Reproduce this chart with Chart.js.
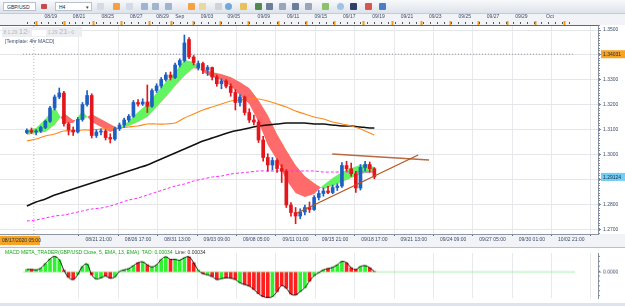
<!DOCTYPE html>
<html><head><meta charset="utf-8">
<script src="https://cdn.jsdelivr.net/npm/chart.js@4.4.1/dist/chart.umd.min.js"></script>
<style>
html,body{margin:0;padding:0;width:625px;height:306px;overflow:hidden;background:#dfe4ec;font-family:"Liberation Sans",Arial,sans-serif;}
#wrap{position:relative;width:625px;height:306px;}
#toolbar{position:absolute;left:0;top:0;width:625px;height:14px;background:linear-gradient(#f8f9fb,#dde3eb);border-bottom:1px solid #c5ccd8;box-sizing:border-box;}
.dd{position:absolute;top:2px;height:9px;background:#fff;border:1px solid #b9c1cd;box-sizing:border-box;font-size:5px;line-height:8px;padding-left:3px;color:#223;}
.arr{position:absolute;right:2px;top:0;font-size:5px;color:#333;}
.ic{position:absolute;top:3px;width:7px;height:7px;border-radius:1px;}
canvas{position:absolute;left:0;display:block;}
#main{top:14px;}
#macd{top:247px;border-top:1px solid #b8c0cc;}
#legend{position:absolute;left:2px;top:27px;width:80px;height:10px;background:#eceef2;color:#b3b8c2;font-size:5px;line-height:10px;white-space:nowrap;}
#legend b{font-size:8px;font-weight:normal;}
#legend i{font-style:normal;display:inline-block;width:14px;height:6px;background:#fff;vertical-align:middle;margin:0 2px;}
#tmpl{position:absolute;left:5px;top:38px;font-size:5px;color:#3d4d6e;white-space:nowrap;}
#macdlbl{position:absolute;left:5px;top:249px;font-size:5px;color:#1aa51a;white-space:nowrap;}
#macdlbl span{color:#333;}
</style></head>
<body><div id="wrap">
<div id="toolbar">
  <div class="dd" style="left:3px;width:33px;">GBP/USD</div>
  <div class="ic" style="left:41px;background:#c84a4a;width:6px;height:5px;top:4px"></div>
  <div class="dd" style="left:55px;width:37px;">H4<span class="arr">▾</span></div>
  <div class="ic" style="left:97px;background:#d5dbe4"></div>
  <div class="ic" style="left:113px;background:#f5a142"></div>
  <div class="ic" style="left:126px;background:#d5dbe4"></div>
  <div class="ic" style="left:141px;background:#9fb4cf"></div>
  <div class="ic" style="left:152px;background:#9fb4cf"></div>
  <div class="ic" style="left:165px;background:#9fb4cf"></div>
  <div class="ic" style="left:188px;background:#f5a142"></div>
  <div class="ic" style="left:199px;background:#e9d9a0"></div>
  <div class="ic" style="left:215px;background:#d0d4da"></div>
  <div class="ic" style="left:225px;background:#6fa8dc;border-radius:4px"></div>
  <div class="ic" style="left:240px;background:#e8c15a"></div>
  <div class="ic" style="left:255px;background:#4f8a4f"></div>
  <div class="ic" style="left:266px;background:#6c7d99"></div>
  <div class="ic" style="left:279px;background:#9aa6b8"></div>
  <div class="ic" style="left:292px;background:#6c7d99"></div>
  <div class="ic" style="left:305px;background:#9aa6b8"></div>
  <div class="ic" style="left:322px;background:#8dc06a"></div>
  <div class="ic" style="left:337px;background:#9fc3e6;border-radius:4px"></div>
  <div class="ic" style="left:350px;background:#2d3f63"></div>
  <div class="ic" style="left:365px;background:#d9534f"></div>
  <div class="ic" style="left:379px;background:#4a7fc1"></div>
</div>
<canvas id="main" width="625" height="233"></canvas>
<canvas id="macd" width="625" height="56"></canvas>
<div id="legend">&nbsp;8 1.29 <b>12</b>⁴<i></i>1.29 <b>21</b>⁵ 0</div>
<div id="tmpl">[Template: 4hr MACD]</div>
<div id="macdlbl">MACD META_TRADER(GBP/USD.Close, 5, EMA, 13, EMA)&nbsp; TAO: 0.00034&nbsp; <span>Line: 0.00034</span></div>
</div>
<script>
// ---- bar positions (H4 bar index, 0 = 08/17/2020 05:00) ----
const candleIdx = [-3,-1,1,3,5,7,9,11,13,15,17,19,21,23,25,27,29,31,33,35,37,39,41,43,45,47,49,51,53,55,57,59,61,63,65,67,69,71,73,75,77,79,81,83,85,87,89,91,93,95,97,99,101,103,105,107,109,111,113,115,117,119,121,123,125,127,129,131,133,135,137,139,141,143,145,147];
const opens  = [1.3090,1.3098,1.3092,1.3096,1.3110,1.3135,1.3188,1.3232,1.3248,1.3125,1.3100,1.3092,1.3142,1.3202,1.3238,1.3078,1.3092,1.3096,1.3070,1.3064,1.3105,1.3120,1.3140,1.3155,1.3210,1.3204,1.3212,1.3195,1.3258,1.3276,1.3302,1.3320,1.3310,1.3360,1.3378,1.3462,1.3392,1.3348,1.3366,1.3340,1.3350,1.3312,1.3285,1.3296,1.3275,1.3250,1.3210,1.3232,1.3170,1.3140,1.3132,1.3060,1.2990,1.2960,1.2978,1.2946,1.2935,1.2800,1.2770,1.2756,1.2772,1.2790,1.2782,1.2830,1.2846,1.2856,1.2850,1.2870,1.2876,1.2958,1.2945,1.2925,1.2868,1.2950,1.2962,1.2945];
const highs  = [1.3105,1.3108,1.3102,1.3115,1.3140,1.3195,1.3240,1.3268,1.3255,1.3130,1.3112,1.3150,1.3210,1.3258,1.3245,1.3100,1.3105,1.3102,1.3085,1.3112,1.3128,1.3148,1.3162,1.3218,1.3222,1.3225,1.3280,1.3265,1.3285,1.3310,1.3330,1.3332,1.3368,1.3385,1.3480,1.3470,1.3398,1.3376,1.3372,1.3358,1.3352,1.3320,1.3305,1.3302,1.3285,1.3262,1.3242,1.3236,1.3185,1.3160,1.3140,1.3075,1.3005,1.2990,1.2985,1.2962,1.2942,1.2810,1.2790,1.2785,1.2800,1.2812,1.2838,1.2858,1.2868,1.2875,1.2880,1.2885,1.2970,1.2975,1.2968,1.2935,1.2962,1.2975,1.2972,1.2950];
const lows   = [1.3085,1.3086,1.3080,1.3090,1.3105,1.3130,1.3180,1.3225,1.3115,1.3080,1.3078,1.3088,1.3135,1.3195,1.3068,1.3070,1.3080,1.3060,1.3048,1.3058,1.3098,1.3110,1.3132,1.3150,1.3195,1.3198,1.3170,1.3190,1.3250,1.3268,1.3295,1.3300,1.3305,1.3352,1.3372,1.3385,1.3360,1.3340,1.3325,1.3318,1.3300,1.3275,1.3265,1.3268,1.3235,1.3180,1.3195,1.3160,1.3130,1.3120,1.3050,1.2975,1.2935,1.2940,1.2930,1.2890,1.2790,1.2755,1.2725,1.2745,1.2760,1.2770,1.2778,1.2820,1.2835,1.2845,1.2845,1.2858,1.2870,1.2935,1.2915,1.2850,1.2860,1.2935,1.2930,1.2905];
const closes = [1.3098,1.3092,1.3096,1.3110,1.3135,1.3188,1.3232,1.3248,1.3125,1.3100,1.3092,1.3142,1.3202,1.3238,1.3078,1.3092,1.3096,1.3070,1.3064,1.3105,1.3120,1.3140,1.3155,1.3210,1.3204,1.3212,1.3195,1.3258,1.3276,1.3302,1.3320,1.3310,1.3360,1.3378,1.3448,1.3392,1.3370,1.3366,1.3340,1.3350,1.3312,1.3285,1.3296,1.3275,1.3250,1.3210,1.3232,1.3170,1.3140,1.3132,1.3060,1.2990,1.2960,1.2978,1.2946,1.2935,1.2800,1.2770,1.2756,1.2772,1.2790,1.2782,1.2830,1.2846,1.2856,1.2850,1.2870,1.2876,1.2958,1.2945,1.2925,1.2868,1.2950,1.2962,1.2945,1.2912];

// ---- indicator lines ----
const lineIdx   = [-3,1,5,9,13,17,21,25,29,33,37,41,45,49,53,57,61,65,69,73,77,81,85,89,93,97,101,105,109,113,117,121,125,129,133,137,141,145,147];
const emaFast   = [1.3100,1.3108,1.3144,1.3192,1.3128,1.3128,1.3176,1.3132,1.3112,1.3092,1.3108,1.3136,1.3172,1.3204,1.3248,1.3292,1.3332,1.3380,1.3372,1.3332,1.3312,1.3300,1.3276,1.3240,1.3204,1.3132,1.3040,1.2980,1.2900,1.2848,1.2832,1.2844,1.2880,1.2908,1.2932,1.2948,1.2960,1.2964,1.2948];
const emaSlow   = [1.3080,1.3088,1.3092,1.3120,1.3168,1.3140,1.3140,1.3164,1.3144,1.3124,1.3104,1.3116,1.3132,1.3152,1.3192,1.3232,1.3276,1.3316,1.3348,1.3344,1.3332,1.3324,1.3312,1.3292,1.3268,1.3220,1.3160,1.3084,1.3020,1.2960,1.2916,1.2888,1.2864,1.2876,1.2892,1.2908,1.2924,1.2932,1.2932];
const maOrange  = [1.3056,1.3064,1.3076,1.3084,1.3096,1.3096,1.3100,1.3100,1.3104,1.3104,1.3108,1.3112,1.3116,1.3124,1.3124,1.3124,1.3128,1.3148,1.3164,1.3180,1.3192,1.3204,1.3216,1.3220,1.3224,1.3224,1.3216,1.3204,1.3192,1.3176,1.3164,1.3152,1.3144,1.3132,1.3124,1.3116,1.3104,1.3088,1.3080];
const maBlack   = [1.2796,1.2812,1.2824,1.2840,1.2852,1.2864,1.2876,1.2888,1.2900,1.2912,1.2924,1.2936,1.2948,1.2960,1.2976,1.2992,1.3008,1.3024,1.3040,1.3056,1.3068,1.3080,1.3092,1.3100,1.3108,1.3116,1.3120,1.3124,1.3128,1.3128,1.3128,1.3124,1.3124,1.3120,1.3116,1.3116,1.3112,1.3108,1.3108];
const maMagenta = [1.2736,1.2740,1.2748,1.2756,1.2760,1.2768,1.2776,1.2784,1.2788,1.2796,1.2808,1.2820,1.2828,1.2840,1.2852,1.2864,1.2876,1.2884,1.2896,1.2904,1.2912,1.2916,1.2924,1.2928,1.2932,1.2936,1.2936,1.2936,1.2936,1.2936,1.2936,1.2936,1.2932,1.2932,1.2932,1.2932,1.2932,1.2932,1.2932];

// ---- MACD histogram ----
const macdHist = [0.0006,0.0006,0.0005,0.0009,0.0020,0.0031,0.0037,0.0029,0.0004,-0.0013,-0.0018,-0.0006,0.0013,0.0019,-0.0007,-0.0017,-0.0014,-0.0010,-0.0015,-0.0012,0.0001,0.0005,0.0008,0.0015,0.0022,0.0024,0.0017,0.0012,0.0017,0.0030,0.0036,0.0030,0.0030,0.0028,0.0034,0.0036,0.0022,0.0004,-0.0004,-0.0007,-0.0011,-0.0018,-0.0016,-0.0014,-0.0015,-0.0018,-0.0026,-0.0030,-0.0034,-0.0042,-0.0052,-0.0059,-0.0061,-0.0059,-0.0047,-0.0033,-0.0039,-0.0053,-0.0055,-0.0047,-0.0038,-0.0022,-0.0009,-0.0002,0.0005,0.0008,0.0011,0.0017,0.0025,0.0022,0.0010,0.0006,0.0013,0.0015,0.0010,0.0001];

// ---- drawn trend lines ----
const lowerTrendIdx = [113.7,165.9], lowerTrendPrice = [1.2768,1.3000];
const upperTrendIdx = [128.8,170.6], upperTrendPrice = [1.3004,1.2980];

// ---- reference prices ----
const askPrice = 1.34031, lastPrice = 1.29124;
const crosshairIdx = 0, crosshairLabel = '08/17/2020 05:00';

// ---- axes ----
const priceTicks = [1.27,1.28,1.29,1.30,1.31,1.32,1.33,1.34,1.35];
const bottomTickIdx = [28,45,62,79,96,113,130,147,164,181,198,215,232];
const bottomTickLabels = ['08/21 21:00','08/26 17:00','08/31 13:00','09/03 09:00','09/08 05:00','09/11 01:00','09/15 21:00','09/18 17:00','09/21 13:00','09/24 09:00','09/27 05:00','09/30 01:00','10/02 21:00'];
const topTickIdx = [10.1,22,34,46,57.1,64.3,75.8,87,99.7,112,123.6,135.6,147.9,159.9,171.8,184.2,196.1,208,220];
const topTickLabels = ['08/19','08/21','08/25','08/27','08/29','Sep','09/03','09/05','09/09','09/11','09/15','09/17','09/19','09/21','09/23','09/25','09/27','09/29','Oct'];
const X_MIN = -4.66, X_MAX = 233.6;
const Y_MIN = 1.2684, Y_MAX = 1.3520;
const MACD_MIN = -0.00626, MACD_MAX = 0.00454;

// ---------------------------------------------------------------
Chart.defaults.font.family = '"Liberation Sans", Arial, sans-serif';
const pts = (xs, ys) => xs.map((x, i) => ({x, y: ys[i]}));
const isUp = closes.map((c, i) => c >= opens[i]);
const candleCol = isUp.map(u => u ? '#1d5fc2' : '#e3161c');
const macdCol = isUp.map(u => u ? '#2ff22f' : '#ff1f1f');
const FONT = {size: 5};
const TXT = '#3d4b6b';

const decoMain = {
  id: 'decoMain',
  beforeDraw(c) {
    const {ctx, chartArea: a, width, height} = c;
    ctx.save();
    ctx.fillStyle = '#f1f3f6'; ctx.fillRect(0, 0, width, height);
    ctx.fillStyle = '#ffffff';
    ctx.fillRect(a.left, a.top, width - a.left, a.bottom - a.top);
    ctx.restore();
  },
  afterDraw(c) {
    const {ctx, chartArea: a, scales} = c;
    const y = scales.y, x = scales.x;
    ctx.save();
    // minor ticks on price axis
    ctx.strokeStyle = '#7d889c'; ctx.lineWidth = 1;
    for (let k = 1269; k <= 1352; k++) {
      const py = Math.round(y.getPixelForValue(k / 1000)) + 0.5;
      ctx.beginPath(); ctx.moveTo(a.right, py); ctx.lineTo(a.right + 2, py); ctx.stroke();
    }
    // ruler ticks on top
    ctx.strokeStyle = '#555';
    for (let i = -3; i < 234; i += 3) {
      const px = Math.round(x.getPixelForValue(i)) + 0.5;
      ctx.beginPath(); ctx.moveTo(px, a.top - 3); ctx.lineTo(px, a.top - 1); ctx.stroke();
    }
    // price tags
    const tag = (v, bg) => {
      const py = y.getPixelForValue(v);
      ctx.fillStyle = bg; ctx.fillRect(a.right + 3, py - 4, 24, 8);
      ctx.fillStyle = '#1a2a44'; ctx.font = '5px "Liberation Sans", Arial';
      ctx.textBaseline = 'middle'; ctx.textAlign = 'left';
      ctx.fillText(v.toFixed(5), a.right + 5, py + 0.5);
    };
    tag(askPrice, '#f5a425');
    tag(lastPrice, '#72cff3');
    // crosshair time label
    ctx.fillStyle = '#f5a425'; ctx.fillRect(0, a.bottom + 2, 40, 9);
    ctx.fillStyle = '#1a2a44'; ctx.font = '5px "Liberation Sans", Arial';
    ctx.textBaseline = 'middle'; ctx.textAlign = 'left';
    ctx.fillText(crosshairLabel, 2, a.bottom + 6.5);
    ctx.restore();
  }
};

new Chart(document.getElementById('main'), {
  type: 'bar',
  data: {datasets: [
    {type: 'line', data: pts(lineIdx, emaFast), borderColor: 'rgba(0,0,0,0)', borderWidth: 1, pointRadius: 0,
     fill: {target: 1, above: 'rgba(88,246,88,0.95)', below: 'rgba(255,98,98,0.95)'}, order: 20},
    {type: 'line', data: pts(lineIdx, emaSlow), borderColor: 'rgba(0,0,0,0)', borderWidth: 1, pointRadius: 0, fill: false, order: 20},
    {type: 'line', data: [{x: X_MIN, y: askPrice}, {x: X_MAX, y: askPrice}], borderColor: '#9a9a9a', borderWidth: 1, borderDash: [1, 2], pointRadius: 0, order: 18},
    {type: 'line', data: [{x: crosshairIdx, y: Y_MIN}, {x: crosshairIdx, y: Y_MAX}], borderColor: '#b8bcc4', borderWidth: 1, borderDash: [1, 2], pointRadius: 0, order: 18},
    {type: 'line', data: pts(lineIdx, maMagenta), borderColor: '#ff2bff', borderWidth: 1, borderDash: [3, 2], pointRadius: 0, tension: 0.3, order: 8},
    {type: 'line', data: pts(lineIdx, maOrange), borderColor: '#ff8a1c', borderWidth: 1.2, pointRadius: 0, tension: 0.3, order: 7},
    {type: 'line', data: pts(lineIdx, maBlack), borderColor: '#111111', borderWidth: 1.5, pointRadius: 0, tension: 0.3, order: 7},
    {type: 'bar', data: candleIdx.map((x, i) => ({x, y: [lows[i], highs[i]]})), backgroundColor: candleCol, barThickness: 1, grouped: false, order: 4},
    {type: 'bar', data: candleIdx.map((x, i) => ({x, y: [opens[i], closes[i]]})), backgroundColor: candleCol, barThickness: 3, grouped: false, order: 3},
    {type: 'line', data: pts(lowerTrendIdx, lowerTrendPrice), borderColor: '#b4561f', borderWidth: 1.3, pointRadius: 0, order: 1},
    {type: 'line', data: pts(upperTrendIdx, upperTrendPrice), borderColor: '#b86a40', borderWidth: 1.3, pointRadius: 0, order: 1}
  ]},
  options: {
    responsive: false, animation: false, devicePixelRatio: 1,
    layout: {padding: 0},
    plugins: {legend: {display: false}, tooltip: {enabled: false}},
    scales: {
      x: {type: 'linear', position: 'bottom', min: X_MIN, max: X_MAX,
          afterBuildTicks: s => { s.ticks = bottomTickIdx.map(v => ({value: v})); },
          ticks: {callback: (v, i) => bottomTickLabels[i], autoSkip: false, maxRotation: 0, font: FONT, color: TXT, padding: 1},
          grid: {color: '#e7e9ed', tickLength: 2, tickColor: '#666'},
          border: {color: '#8c95a5'},
          afterFit: s => { s.height = 13; }},
      xt: {type: 'linear', position: 'top', min: X_MIN, max: X_MAX,
          afterBuildTicks: s => { s.ticks = topTickIdx.map(v => ({value: v})); },
          ticks: {callback: (v, i) => topTickLabels[i], autoSkip: false, maxRotation: 0, font: FONT, color: TXT, padding: 1},
          grid: {drawOnChartArea: false, tickLength: 4, tickColor: '#f39a1e', tickWidth: 2},
          border: {color: '#666'},
          afterFit: s => { s.height = 11; }},
      y: {type: 'linear', position: 'right', min: Y_MIN, max: Y_MAX,
          afterBuildTicks: s => { s.ticks = priceTicks.map(v => ({value: v})); },
          ticks: {callback: v => v.toFixed(4), font: FONT, color: TXT, padding: 2},
          grid: {color: '#e4e6ea', tickLength: 3, tickColor: '#7d889c'},
          border: {color: '#8c95a5'},
          afterFit: s => { s.width = 27; }}
    }
  },
  plugins: [decoMain]
});

const decoMacd = {
  id: 'decoMacd',
  beforeDraw(c) {
    const {ctx, chartArea: a, width, height} = c;
    ctx.save();
    ctx.fillStyle = '#ffffff'; ctx.fillRect(0, 0, width, height);
    ctx.restore();
  },
  afterDraw(c) {
    const {ctx, chartArea: a} = c;
    ctx.save(); ctx.strokeStyle = '#7d889c'; ctx.lineWidth = 1;
    for (let py = a.top + 3; py < a.bottom; py += 5) {
      ctx.beginPath(); ctx.moveTo(a.right, Math.round(py) + 0.5); ctx.lineTo(a.right + 2, Math.round(py) + 0.5); ctx.stroke();
    }
    ctx.restore();
  }
};

new Chart(document.getElementById('macd'), {
  type: 'bar',
  data: {datasets: [
    {type: 'line', data: [{x: X_MIN, y: 0}, {x: X_MAX, y: 0}], borderColor: '#a4f2a4', borderWidth: 1, pointRadius: 0, order: 9},
    {type: 'bar', data: pts(candleIdx, macdHist), backgroundColor: macdCol, barThickness: 3, grouped: false, order: 5},
    {type: 'line', data: pts(candleIdx, macdHist), borderColor: '#111111', borderWidth: 1, pointRadius: 0, tension: 0.4, order: 1}
  ]},
  options: {
    responsive: false, animation: false, devicePixelRatio: 1,
    layout: {padding: {top: 1, left: 0, right: 0, bottom: 0}},
    plugins: {legend: {display: false}, tooltip: {enabled: false}},
    scales: {
      x: {type: 'linear', min: X_MIN, max: X_MAX,
          afterBuildTicks: s => { s.ticks = bottomTickIdx.map(v => ({value: v})); },
          ticks: {display: false}, grid: {color: '#e7e9ed', drawTicks: false}, border: {display: false},
          afterFit: s => { s.height = 1; }},
      y: {type: 'linear', position: 'right', min: MACD_MIN, max: MACD_MAX,
          afterBuildTicks: s => { s.ticks = [{value: 0}]; },
          ticks: {callback: v => v.toFixed(4), font: FONT, color: TXT, padding: 2},
          grid: {drawOnChartArea: false, tickLength: 3, tickColor: '#7d889c'},
          border: {color: '#8c95a5'},
          afterFit: s => { s.width = 27; }}
    }
  },
  plugins: [decoMacd]
});
</script>
</body></html>
